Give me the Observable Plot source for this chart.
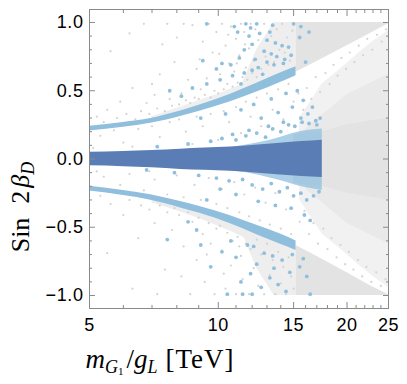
<!DOCTYPE html>
<html><head><meta charset="utf-8">
<script src="https://cdn.jsdelivr.net/npm/d3@7"></script>
<script src="https://cdn.jsdelivr.net/npm/@observablehq/plot@0.6"></script>
<style>body{margin:0;background:#fff}svg{display:block}</style>
</head><body><div id="chart"></div>
<script>
// ---- tick values ----
const xMajor = [5, 10, 15, 20, 25];
const xMinor = [6, 7, 8, 9, 11, 12, 13, 14, 16, 17, 18, 19, 21, 22, 23, 24];
const yMajor = [-1, -0.5, 0, 0.5, 1];
const yMinor = [-0.9, -0.8, -0.7, -0.6, -0.4, -0.3, -0.2, -0.1, 0.1, 0.2, 0.3, 0.4, 0.6, 0.7, 0.8, 0.9];

// ---- dense regions (envelopes) ----
const upperBandX  = [5, 6, 6.95, 8.16, 9.09, 10.68, 12.3, 13.97, 15.2];
const upperBandLo = [0.205, 0.233, 0.262, 0.312, 0.352, 0.42, 0.49, 0.56, 0.61];
const upperBandHi = [0.24, 0.268, 0.297, 0.352, 0.397, 0.475, 0.555, 0.63, 0.675];
const lowerBandX  = [5, 6, 6.95, 8.16, 9.09, 10.68, 12.3, 13.97, 15.2];
const lowerBandHi = [-0.20, -0.23, -0.262, -0.312, -0.35, -0.415, -0.485, -0.55, -0.60];
const lowerBandLo = [-0.235, -0.268, -0.302, -0.358, -0.40, -0.475, -0.555, -0.625, -0.67];

const upFringeX  = [7, 9.09, 10.68, 12.3, 13.97];
const upFringeLo = [0.29, 0.39, 0.46, 0.54, 0.62];
const upFringeHi = [0.31, 0.43, 0.51, 0.6, 0.69];
const dnFringeX  = [7, 9.09, 10.68, 12.3, 13.97];
const dnFringeHi = [-0.3, -0.39, -0.46, -0.54, -0.61];
const dnFringeLo = [-0.32, -0.44, -0.53, -0.62, -0.7];

const darkX  = [5, 6, 7, 8.16, 9.3, 10.68, 12.2, 13.97, 15.7, 17.5];
const darkHi = [0.05, 0.055, 0.062, 0.072, 0.08, 0.088, 0.1, 0.115, 0.128, 0.138];
const darkLo = [-0.05, -0.056, -0.064, -0.076, -0.083, -0.09, -0.102, -0.117, -0.129, -0.136];

const haloX  = [11, 12.5, 14, 15.5, 17.5];
const haloHi = [0.09, 0.12, 0.16, 0.2, 0.22];
const haloLo = [-0.09, -0.12, -0.16, -0.2, -0.23];

const topWedgeX  = [15.2, 17.5, 20, 22.5, 25];
const topWedgeLo = [0.636, 0.734, 0.829, 0.914, 0.99];
const topWedgeHi = [1, 1, 1, 1, 1];
const botWedgeX  = [15.2, 17.5, 20, 22.5, 25];
const botWedgeHi = [-0.634, -0.735, -0.833, -0.922, -0.995];
const botWedgeLo = [-1, -1, -1, -1, -1];

const upHazeX  = [11.3, 12.3, 13.5, 15.2];
const upHazeLo = [0.53, 0.56, 0.61, 0.675];
const upHazeHi = [0.53, 0.80, 1.0, 1.0];
const dnHazeX  = [11.3, 12.3, 13.5, 15.2];
const dnHazeHi = [-0.52, -0.55, -0.6, -0.67];
const dnHazeLo = [-0.52, -0.80, -1.0, -1.0];

const outerX  = [15.5, 17.5, 20, 21.2, 23, 25];
const outerHi = [0.30, 0.55, 0.70, 0.77, 0.86, 0.94];
const outerLo = [-0.30, -0.55, -0.70, -0.77, -0.86, -0.94];
const midX  = [16, 17.5, 20, 25];
const midHi = [0.22, 0.32, 0.47, 0.62];
const midLo = [-0.22, -0.32, -0.47, -0.62];
const coreX  = [15, 17.5, 20, 25];
const coreHi = [0.18, 0.2, 0.25, 0.3];
const coreLo = [-0.18, -0.2, -0.25, -0.3];

// ---- scattered points ----
const grayPts = [
 [5.2,0.31],[5.5,0.36],[5.4,0.27],[5.8,0.30],[5.9,0.42],[6.1,0.33],[6.3,0.52],[5.6,0.79],[6.4,0.29],[6.2,0.92],
 [6.6,0.35],[6.8,0.41],[6.9,0.33],[7.1,0.47],[7.2,0.37],[7.3,0.62],[7.5,0.35],[7.6,0.99],[7.7,0.44],[7.8,0.39],[7.9,0.71],[7.4,0.84],[7.0,0.55],[6.7,0.99],
 [8.1,0.40],[8.2,0.48],[8.3,0.99],[8.4,0.43],[8.5,0.58],[8.6,0.41],[8.7,0.98],[8.8,0.45],[8.9,0.66],[9.0,0.44],[9.1,0.51],[9.2,0.86],[9.3,0.47],[9.4,0.59],[9.5,0.99],[9.6,0.45],[9.7,0.78],[9.8,0.50],[9.9,0.93],[10.0,0.48],[8.0,0.89],[9.05,0.73],
 [10.1,0.62],[10.2,0.99],[10.3,0.51],[10.4,0.83],[10.5,0.55],[10.6,0.70],[10.7,0.97],[10.8,0.53],[10.9,0.64],[11.0,0.88],[11.1,0.56],[11.2,0.76],[11.3,0.99],[11.4,0.60],[11.5,0.93],[11.6,0.67],[11.7,0.58],[11.8,0.81],[11.9,0.99],[12.0,0.63],[12.1,0.72],[12.2,0.95],[12.3,0.60],[12.4,0.87],[10.05,0.77],[10.55,0.91],[11.05,0.70],[11.55,0.84],
 [12.6,0.66],[12.8,0.99],[12.9,0.75],[13.1,0.69],[13.3,0.90],[13.5,0.71],[13.7,0.95],[13.9,0.80],[14.1,0.99],[14.3,0.78],[14.5,0.89],[14.7,0.72],[14.9,0.94],
 [5.3,0.17],[5.7,0.21],[6.0,0.12],[6.5,0.22],[7.0,0.24],[7.3,0.16],[7.7,0.27],[8.1,0.29],[8.4,0.20],[8.9,0.31],[9.2,0.24],[9.6,0.33],[10.0,0.14],[10.3,0.35],[10.6,0.27],[11.0,0.38],[11.3,0.19],[11.6,0.42],[11.9,0.31],[12.3,0.45],[12.6,0.24],[13.0,0.48],[13.4,0.36],[13.8,0.51],[14.2,0.29],[14.6,0.55],[15.0,0.42],[6.3,0.09],[8.7,0.11],[5.1,0.08],
 [5.4,-0.13],[5.9,-0.19],[6.2,-0.11],[6.7,-0.23],[7.1,-0.15],[7.6,-0.26],[8.0,-0.12],[8.3,-0.28],[8.8,-0.19],[9.1,-0.30],[9.5,-0.14],[9.9,-0.33],[10.2,-0.22],[10.5,-0.36],[10.9,-0.17],[11.2,-0.39],[11.5,-0.26],[11.8,-0.42],[12.2,-0.21],[12.5,-0.45],[12.9,-0.32],[13.2,-0.48],[13.6,-0.25],[14.0,-0.51],[14.4,-0.37],[14.8,-0.55],[5.2,-0.09],[6.9,-0.09],
 [5.3,-0.27],[5.6,-0.33],[5.8,-0.25],[6.0,-0.41],[6.2,-0.30],[6.5,-0.58],[6.6,-0.34],[6.9,-0.37],[7.1,-0.47],[7.3,-0.34],[7.5,-0.81],[7.6,-0.39],[7.8,-0.52],[7.9,-0.36],[5.5,-0.69],[6.3,-0.95],[7.2,-0.99],
 [8.1,-0.41],[8.3,-0.64],[8.5,-0.39],[8.6,-0.99],[8.7,-0.46],[8.9,-0.74],[9.0,-0.43],[9.2,-0.55],[9.3,-0.90],[9.5,-0.47],[9.6,-0.62],[9.8,-0.99],[9.9,-0.51],[8.2,-0.86],[9.4,-0.70],
 [10.1,-0.49],[10.2,-0.67],[10.4,-0.95],[10.5,-0.54],[10.7,-0.78],[10.8,-0.60],[11.0,-0.99],[11.1,-0.57],[11.3,-0.71],[11.4,-0.88],[11.6,-0.62],[11.8,-0.99],[11.9,-0.66],[12.1,-0.80],[12.3,-0.59],[12.4,-0.93],[10.3,-0.84],[11.2,-0.64],
 [12.6,-0.70],[12.8,-0.99],[13.0,-0.62],[13.2,-0.85],[13.4,-0.74],[13.6,-0.99],[13.8,-0.68],[14.0,-0.91],[14.2,-0.79],[14.4,-0.99],[14.6,-0.72],[14.8,-0.86],[15.0,-0.95],
 [15.4,0.48],[15.8,0.36],[16.1,0.52],[16.5,0.44],[16.9,0.60],[17.3,0.49],[17.8,0.63],[18.2,0.55],[18.6,0.69],[19.0,0.61],[19.4,0.74],[19.9,0.66],[20.3,0.78],[20.8,0.71],[21.3,0.83],[21.8,0.76],[22.3,0.88],[22.9,0.80],[23.5,0.91],[24.1,0.86],[24.7,0.95],
 [15.5,-0.46],[15.9,-0.38],[16.3,-0.55],[16.7,-0.47],[17.1,-0.62],[17.6,-0.51],[18.0,-0.66],[18.4,-0.58],[18.9,-0.72],[19.3,-0.63],[19.8,-0.77],[20.2,-0.68],[20.7,-0.81],[21.2,-0.74],[21.7,-0.86],[22.2,-0.79],[22.8,-0.90],[23.4,-0.83],[24.0,-0.93],[24.6,-0.88]
];

const bluePts = [
 [9.4,0.99],[10.9,0.97],[11.6,0.99],[11.9,0.96],[12.3,0.99],[13.4,0.98],[15.0,0.99],[15.6,0.97],[16.3,0.93],[11.1,0.93],[11.8,0.90],[12.5,0.92],[13.0,0.87],[13.2,0.93],[13.6,0.85],[15.5,0.89],[14.1,0.83],[12.0,0.84],[11.5,0.80],[12.8,0.79],[13.3,0.77],[14.6,0.82],[12.2,0.73],[13.7,0.75],[11.2,0.74],[10.2,0.70],[9.2,0.72],[9.9,0.66],[10.7,0.69],[12.4,0.67],[13.0,0.71],[14.3,0.73],[16.0,0.71],[8.7,0.52],[9.4,0.55],[10.1,0.58],[10.8,0.61],[11.5,0.63],[12.0,0.65],[13.5,0.69],[14.2,0.70],[8.2,0.46],[7.7,0.50],[14.8,0.76],[12.7,0.62],[11.3,0.55],
 [9.1,0.30],[10.4,0.33],[11.3,0.36],[12.1,0.40],[12.6,0.30],[13.3,0.44],[13.8,0.34],[14.4,0.48],[14.9,0.38],[15.3,0.50],[15.8,0.43],[16.2,0.33],[16.6,0.38],[15.6,0.30],[14.2,0.27],[13.1,0.24],[11.8,0.21],[10.8,0.18],[16.9,0.28],
 [7.2,0.09],[8.5,0.11],[9.6,0.13],[10.2,0.15],[11.0,0.14],[11.6,0.17],[12.3,0.19],[12.9,0.16],[13.4,0.22],[14.0,0.20],[14.6,0.25],[15.1,0.24],[15.7,0.27],[16.3,0.26],[17.0,0.25],[17.3,0.30],
 [6.8,-0.08],[7.9,-0.10],[9.0,-0.12],[9.9,-0.14],[10.6,-0.16],[11.4,-0.15],[12.0,-0.19],[12.7,-0.22],[13.3,-0.18],[13.9,-0.24],[14.5,-0.21],[15.0,-0.27],[15.6,-0.25],[16.1,-0.30],[16.7,-0.27],[17.2,-0.24],[11.0,-0.26],[12.4,-0.31],[13.6,-0.34],[14.8,-0.36],[15.9,-0.41],[16.4,-0.45],[10.1,-0.22],[9.4,-0.30],
 [7.6,-0.59],[8.5,-0.46],[9.6,-0.79],[10.5,-0.99],[11.4,-0.99],[12.0,-0.99],[16.4,-0.99],[13.2,-0.87],[15.5,-0.79],[10.2,-0.68],[11.0,-0.72],[11.7,-0.63],[12.3,-0.77],[12.8,-0.69],[13.5,-0.80],[14.1,-0.74],[14.7,-0.83],[11.3,-0.90],[12.6,-0.94],[13.8,-0.92],[14.4,-0.97],[9.1,-0.63],[10.7,-0.60],[12.1,-0.64],[13.4,-0.71],[14.9,-0.70],[15.8,-0.73],[16.1,-0.86],[8.9,-0.52],[11.9,-0.84]
];

// ---- colours ----
const GRAY = "#e3e3e3", GRAYDOT = "#d3d3d3", LIGHT = "#8fbfdd", DARK = "#5a7db5", AXIS = "#8a8a8a";

const rows = (xs, lo, hi) => xs.map((x, i) => ({x, lo: lo[i], hi: hi[i]}));
const band = (xs, lo, hi, fill, curve = "linear", fillOpacity = 1) =>
  Plot.areaY(rows(xs, lo, hi), {x: "x", y1: "lo", y2: "hi", fill, curve, fillOpacity});

const fmtY = d => (d < 0 ? "\u2212" : "") + Math.abs(d).toFixed(1);
const none = () => "";

const chart = Plot.plot({
  width: 407, height: 384,
  marginLeft: 89, marginRight: 19, marginTop: 9, marginBottom: 76,
  style: {fontFamily: "'Liberation Sans', Arial, sans-serif", fontSize: "18px", color: "black", background: "white"},
  x: {type: "log", domain: [5, 25], axis: null, label: null},
  y: {domain: [-1.095, 1.095], axis: null, label: null},
  marks: [
    band(outerX, outerLo, outerHi, "#f1f1f1"),
    band(midX, midLo, midHi, "#e9e9e9"),
    band(coreX, coreLo, coreHi, GRAY),
    band(upHazeX, upHazeLo, upHazeHi, "#eeeeee"),
    band(dnHazeX, dnHazeLo, dnHazeHi, "#eeeeee"),
    band(upFringeX, upFringeLo, upFringeHi, "#efefef", "monotone-x"),
    band(dnFringeX, dnFringeLo, dnFringeHi, "#ededed", "monotone-x"),
    band(topWedgeX, topWedgeLo, topWedgeHi, GRAY),
    band(botWedgeX, botWedgeLo, botWedgeHi, GRAY),
    Plot.dot(grayPts, {x: d => d[0], y: d => d[1], r: 1.1, fill: GRAYDOT}),
    band(haloX, haloLo, haloHi, LIGHT, "monotone-x", 0.75),
    band(upperBandX, upperBandLo, upperBandHi, LIGHT, "monotone-x"),
    band(lowerBandX, lowerBandLo, lowerBandHi, LIGHT, "monotone-x"),
    Plot.dot(bluePts, {x: d => d[0], y: d => d[1], r: 1.9, fill: LIGHT}),
    band(darkX, darkLo, darkHi, DARK, "monotone-x"),
    Plot.frame({stroke: AXIS, strokeWidth: 1}),
    // inward ticks on all four sides
    Plot.axisX(xMajor, {anchor: "bottom", tickSize: 6, dy: -6, tickFormat: none, stroke: AXIS, label: null}),
    Plot.axisX(xMinor, {anchor: "bottom", tickSize: 3, dy: -3, tickFormat: none, stroke: AXIS, label: null}),
    Plot.axisX(xMajor, {anchor: "top", tickSize: 6, dy: 6, tickFormat: none, stroke: AXIS, label: null}),
    Plot.axisX(xMinor, {anchor: "top", tickSize: 3, dy: 3, tickFormat: none, stroke: AXIS, label: null}),
    Plot.axisY(yMajor, {anchor: "left", tickSize: 6, dx: 6, tickFormat: none, stroke: AXIS, label: null}),
    Plot.axisY(yMinor, {anchor: "left", tickSize: 3, dx: 3, tickFormat: none, stroke: AXIS, label: null}),
    Plot.axisY(yMajor, {anchor: "right", tickSize: 6, dx: -6, tickFormat: none, stroke: AXIS, label: null}),
    Plot.axisY(yMinor, {anchor: "right", tickSize: 3, dx: -3, tickFormat: none, stroke: AXIS, label: null}),
    // tick labels
    Plot.axisX(xMajor, {anchor: "bottom", tickSize: 0, tickPadding: 10, tickFormat: d => String(d), fontSize: 18, fill: "black", label: null}),
    Plot.axisY(yMajor, {anchor: "left", tickSize: 0, tickPadding: 6, tickFormat: fmtY, fontSize: 18, fill: "black", label: null})
  ]
});
document.getElementById("chart").appendChild(chart);
d3.select(chart).selectAll("g[aria-label='y-axis tick label'] text, g[aria-label='x-axis tick label'] text")
  .attr("letter-spacing", "0.6px");

// ---- axis titles with subscripts ----
const svg = d3.select(chart);
const serif = "'Liberation Serif', 'Times New Roman', serif";
const yl = svg.append("text")
  .attr("transform", "translate(29,207) rotate(-90)")
  .attr("font-family", serif).attr("font-size", 26).attr("fill", "black");
yl.append("tspan").text("Sin");
yl.append("tspan").attr("dx", 14).text("2");
yl.append("tspan").attr("dx", 3).attr("font-style", "italic").text("β");
yl.append("tspan").attr("font-style", "italic").attr("font-size", 18).attr("dy", 5).text("D");

const xl = svg.append("text")
  .attr("x", 160).attr("y", 368)
  .attr("font-family", serif).attr("font-size", 27).attr("fill", "black");
xl.append("tspan").attr("font-style", "italic").text("m");
xl.append("tspan").attr("font-style", "italic").attr("font-size", 18).attr("dy", 5).text("G");
xl.append("tspan").attr("font-size", 11).attr("dy", 2).text("1");
xl.append("tspan").attr("dy", -7).attr("dx", 3).text("/");
xl.append("tspan").attr("font-style", "italic").text("g");
xl.append("tspan").attr("font-style", "italic").attr("font-size", 18).attr("dy", 5).text("L");
xl.append("tspan").attr("dy", -5).attr("dx", 8).attr("letter-spacing", "1px").text("[TeV]");
</script>
</body></html>
